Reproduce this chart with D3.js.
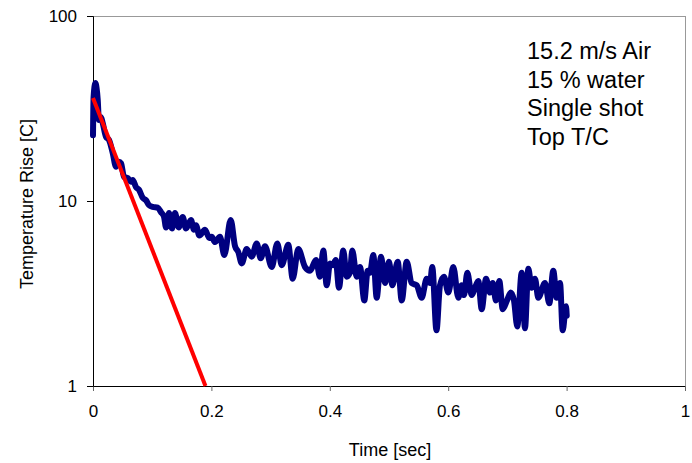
<!DOCTYPE html>
<html>
<head>
<meta charset="utf-8">
<script src="https://cdn.jsdelivr.net/npm/d3@7"></script>
<style>
  html, body { margin: 0; padding: 0; background: #fff; }
  svg { display: block; font-family: "Liberation Sans", Arial, sans-serif; }
</style>
</head>
<body>
<svg id="chart" width="692" height="463"></svg>
<script>
// ---- data ----
const timeSec = [0, 0.001, 0.004, 0.006, 0.008, 0.010, 0.0135, 0.0164, 0.022, 0.027,
  0.0333, 0.0389, 0.0439, 0.0473, 0.0524, 0.0586, 0.0642, 0.0671, 0.0726, 0.0777,
  0.084, 0.0895, 0.0946, 0.1008, 0.1093, 0.1149, 0.12, 0.1233, 0.1284, 0.1334,
  0.1385, 0.1448, 0.1515, 0.1571, 0.1655, 0.1706, 0.174, 0.1796, 0.1892, 0.1965,
  0.2005, 0.2061, 0.2145, 0.2218, 0.2326, 0.2399, 0.2454, 0.2512, 0.2596, 0.2681,
  0.2765, 0.2833, 0.2905, 0.3019, 0.3113, 0.3188, 0.3299, 0.3373, 0.3468, 0.3581,
  0.3666, 0.3767, 0.3834, 0.389, 0.3948, 0.4003, 0.4054, 0.41, 0.4155, 0.4228,
  0.4285, 0.4341, 0.438, 0.4454, 0.451, 0.4583, 0.464, 0.4679, 0.4735, 0.4792,
  0.4865, 0.4932, 0.5, 0.5056, 0.5147, 0.5215, 0.5299, 0.5383, 0.5468, 0.5552,
  0.5637, 0.5693, 0.5731, 0.5802, 0.5861, 0.5929, 0.6002, 0.6086, 0.6171, 0.6228,
  0.6267, 0.6323, 0.6397, 0.6453, 0.6508, 0.6566, 0.6639, 0.6706, 0.6752, 0.6807,
  0.6863, 0.6921, 0.6993, 0.7056, 0.7111, 0.7167, 0.7242, 0.7297, 0.7353, 0.741,
  0.7466, 0.7522, 0.7635, 0.7708, 0.7775, 0.7833, 0.7889, 0.7934, 0.799, 0.8002];
const tempRise = [22.7, 36.5, 43.4, 40.8, 35.2, 27.4, 28.4, 26.4, 22.2, 21.4,
  18.2, 15.3, 16.3, 16.0, 13.5, 13.3, 12.7, 13.0, 11.9, 11.5,
  10.4, 10.1, 9.5, 9.3, 9.2, 8.7, 8.2, 7.2, 8.6, 7.1,
  8.6, 7.2, 8.2, 7.1, 7.9, 7.0, 7.4, 6.5, 7.0, 6.3,
  6.4, 6.0, 6.4, 5.1, 7.9, 5.7, 5.3, 4.6, 5.5, 5.0,
  5.9, 4.9, 5.7, 4.4, 5.9, 4.5, 5.8, 3.8, 5.5, 4.4,
  4.2, 4.8, 3.9, 5.4, 3.5, 4.6, 4.5, 4.8, 3.4, 5.4,
  3.9, 4.1, 5.4, 3.9, 4.4, 2.9, 4.2, 4.1, 5.1, 3.0,
  5.0, 3.6, 4.7, 3.5, 4.7, 2.9, 4.7, 3.6, 3.5, 3.0,
  3.8, 3.6, 4.4, 2.0, 3.5, 3.9, 3.2, 4.4, 3.0, 3.5,
  3.1, 4.1, 3.1, 3.4, 3.7, 2.6, 3.8, 3.2, 3.6, 2.9,
  3.7, 2.6, 2.9, 3.2, 2.9, 2.1, 4.1, 2.05, 4.3, 3.4,
  3.8, 3.0, 3.6, 2.8, 4.2, 3.0, 3.6, 2.0, 2.7, 2.4];
const fitTime = [0, 0.19];
const fitTemp = [36, 1];
const xTicks = [0, 0.2, 0.4, 0.6, 0.8, 1];
const yTicks = [1, 10, 100];
const notes = ["15.2 m/s Air", "15 % water", "Single shot", "Top T/C"];

(function () {
// ---- layout ----
const pLeft = 93, pTop = 16, pRight = 685, pBottom = 386;
const svg = d3.select("#chart");
const x = d3.scaleLinear().domain([0, 1]).range([pLeft, pRight]);
const y = d3.scaleLog().domain([1, 100]).range([pBottom, pTop]);

// frame (top/right gray)
svg.append("line").attr("x1", pLeft).attr("x2", pRight).attr("y1", pTop + 0.5).attr("y2", pTop + 0.5)
  .attr("stroke", "#999").attr("stroke-width", 1);
svg.append("line").attr("x1", pRight + 0.5).attr("x2", pRight + 0.5).attr("y1", pTop).attr("y2", pBottom)
  .attr("stroke", "#999").attr("stroke-width", 1);

// axes
const xAxis = svg.append("g").attr("transform", `translate(0,${pBottom})`)
  .call(d3.axisBottom(x).tickValues(xTicks).tickFormat(d3.format("~g")).tickSizeOuter(0).tickSize(5).tickPadding(14));
const yAxis = svg.append("g").attr("transform", `translate(${pLeft},0)`)
  .call(d3.axisLeft(y).tickValues(yTicks).tickFormat(d3.format("d")).tickSizeOuter(0).tickSize(6).tickPadding(10));
[xAxis, yAxis].forEach(g => {
  g.selectAll("path, line").attr("stroke", "#000");
  g.selectAll("text").attr("font-size", 17).attr("fill", "#000")
    .attr("font-family", "Liberation Sans, Arial, sans-serif");
});
xAxis.selectAll(".tick line").attr("stroke", "#666");
xAxis.select(".domain").attr("d", `M${pLeft - 6},0.5H${pRight}`);

// measured data
const line = d3.line().x(d => x(d[0])).y(d => y(d[1])).curve(d3.curveMonotoneX);
const pts = timeSec.map((t, i) => [t, tempRise[i]]);
svg.append("path").datum(pts).attr("d", line)
  .attr("fill", "none").attr("stroke", "#000080").attr("stroke-width", 6)
  .attr("stroke-linejoin", "round").attr("stroke-linecap", "round");

// fit line
const fit = fitTime.map((t, i) => [t, fitTemp[i]]);
svg.append("path").datum(fit).attr("d", d3.line().x(d => x(d[0])).y(d => y(d[1])))
  .attr("fill", "none").attr("stroke", "#ff0000").attr("stroke-width", 4);

// axis titles
svg.append("text").attr("x", 390).attr("y", 456).attr("text-anchor", "middle")
  .attr("font-size", 18).text("Time [sec]");
svg.append("text").attr("transform", "translate(33,204) rotate(-90)").attr("text-anchor", "middle")
  .attr("font-size", 18).text("Temperature Rise [C]");

// annotation
svg.append("g").selectAll("text").data(notes).join("text")
  .attr("x", 527).attr("y", (d, i) => 59 + i * 28.6)
  .attr("font-size", 23.5).attr("fill", "#000").text(d => d);
})();
</script>
</body>
</html>
